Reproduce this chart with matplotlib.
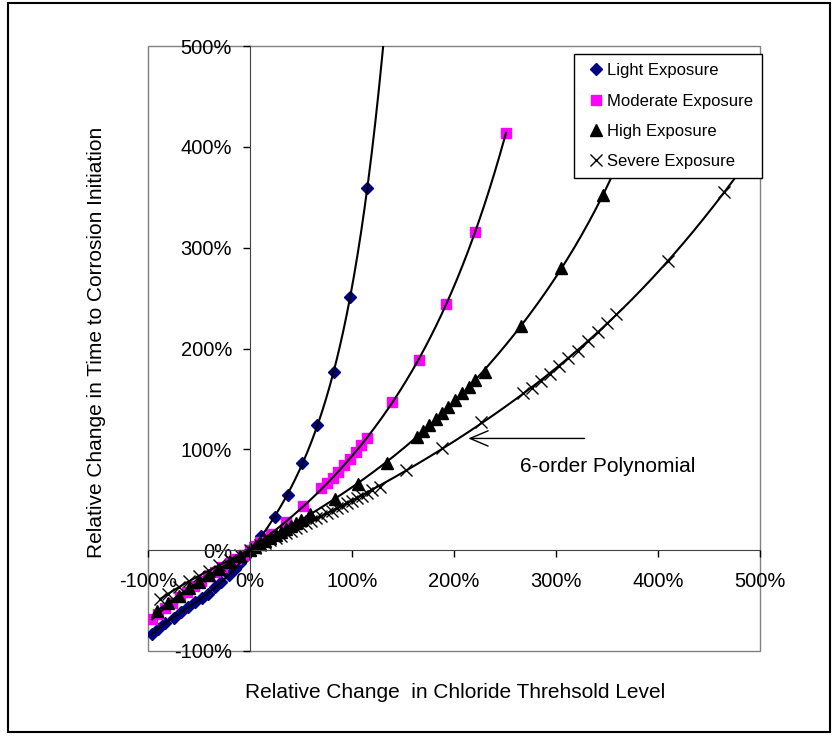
import numpy as np
import matplotlib
matplotlib.use("Agg")
import matplotlib.pyplot as plt
from matplotlib.patches import Rectangle

plt.rcParams['font.family'] = ['Liberation Sans', 'DejaVu Sans']

# values (fractions, shown as %)
light_x = [-0.96, -0.90, -0.83, -0.75, -0.68, -0.61, -0.54, -0.47, -0.41, -0.34,
           -0.28, -0.21, -0.15, -0.10, -0.05, 0.0, 0.105, 0.245, 0.37, 0.507,
           0.66, 0.824, 0.98, 1.15]
light_y = [-0.83, -0.78, -0.72, -0.67, -0.61, -0.56, -0.51, -0.47, -0.43, -0.37,
           -0.32, -0.25, -0.19, -0.13, -0.065, 0.0, 0.139, 0.324, 0.545, 0.86,
           1.24, 1.77, 2.51, 3.59]

moderate_x = [-0.96, -0.90, -0.83, -0.76, -0.69, -0.62, -0.55, -0.48, -0.41, -0.34,
              -0.27, -0.20, -0.14, -0.07, 0.0, 0.05, 0.10, 0.21, 0.353, 0.52,
              0.70, 0.755, 0.81, 0.865, 0.92, 0.98, 1.035, 1.09, 1.15, 1.39,
              1.657, 1.92, 2.21, 2.51]
moderate_y = [-0.68, -0.63, -0.575, -0.52, -0.465, -0.41, -0.36, -0.31, -0.26, -0.215,
              -0.17, -0.125, -0.085, -0.045, 0.0, 0.04, 0.08, 0.165, 0.28, 0.44,
              0.62, 0.67, 0.72, 0.78, 0.84, 0.90, 0.97, 1.04, 1.11, 1.47,
              1.89, 2.44, 3.16, 4.14]

high_x = [-0.91, -0.80, -0.70, -0.60, -0.50, -0.40, -0.30, -0.20, -0.10, 0.0,
          0.05, 0.10, 0.15, 0.20, 0.25, 0.30, 0.35, 0.40, 0.45, 0.50,
          0.59, 0.83, 1.06, 1.34, 1.64, 1.70, 1.755, 1.82, 1.885, 1.94,
          2.01, 2.08, 2.15, 2.21, 2.30, 2.66, 3.05, 3.46]
high_y = [-0.60, -0.52, -0.45, -0.38, -0.315, -0.25, -0.185, -0.122, -0.06, 0.0,
          0.03, 0.06, 0.09, 0.12, 0.15, 0.18, 0.21, 0.24, 0.27, 0.30,
          0.36, 0.51, 0.66, 0.86, 1.12, 1.18, 1.24, 1.30, 1.36, 1.42,
          1.49, 1.555, 1.62, 1.69, 1.77, 2.22, 2.80, 3.52]

severe_x = [-0.88, -0.80, -0.70, -0.60, -0.50, -0.40, -0.30, -0.20, -0.10, 0.0,
            0.05, 0.10, 0.15, 0.20, 0.25, 0.30, 0.35, 0.40, 0.45, 0.50,
            0.55, 0.60, 0.65, 0.70, 0.75, 0.80, 0.85, 0.90, 0.95, 1.00,
            1.05, 1.10, 1.15, 1.20, 1.27, 1.53, 1.88, 2.26, 2.68, 2.76,
            2.85, 2.94, 3.03, 3.12, 3.22, 3.31, 3.41, 3.50, 3.59, 4.10, 4.65]
severe_y = [-0.48, -0.43, -0.37, -0.31, -0.26, -0.205, -0.15, -0.10, -0.05, 0.0,
            0.024, 0.048, 0.072, 0.096, 0.12, 0.144, 0.168, 0.192, 0.216, 0.24,
            0.265, 0.29, 0.315, 0.34, 0.365, 0.39, 0.415, 0.44, 0.465, 0.49,
            0.515, 0.54, 0.565, 0.595, 0.63, 0.80, 1.01, 1.27, 1.555, 1.61,
            1.68, 1.75, 1.825, 1.91, 1.98, 2.07, 2.16, 2.255, 2.34, 2.87, 3.55]

labels = ['Light Exposure', 'Moderate Exposure', 'High Exposure', 'Severe Exposure']
ticks = [-1, 0, 1, 2, 3, 4, 5]

fig = plt.figure(figsize=(8.38, 7.38), dpi=100)
ax = fig.add_axes([148/838, 87/738, 612/838, 605/738])

series = [
    (light_x, light_y, dict(marker='D', ms=6.3, color='#000080'), 0.2),
    (moderate_x, moderate_y, dict(marker='s', ms=7.2, color='#FF00FF'), 0.0),
    (high_x, high_y, dict(marker='^', ms=8.5, color='black'), 0.2),
    (severe_x, severe_y, dict(marker='x', ms=8.5, mew=1, color='black'), 0.2),
]
for (xs, ys, st, fwd), lab in zip(series, labels):
    ax.plot(xs, ys, ls='none', label=lab, zorder=2, **st)
    # 6th order polynomial trendline
    p = np.polyfit(xs, ys, 6)
    xx = np.linspace(min(xs), max(xs) + fwd, 400)
    ax.plot(xx, np.polyval(p, xx), color='black', lw=1.5, zorder=3)

ax.set_xlim(-1, 5)
ax.set_ylim(-1, 5)
ax.set_xticks(ticks)
ax.set_yticks(ticks)
ax.set_xticklabels(['%d%%' % (t * 100) for t in ticks])
ax.set_yticklabels(['%d%%' % (t * 100) for t in ticks])
ax.spines['left'].set_position('zero')
ax.spines['bottom'].set_position('zero')
ax.spines['right'].set_visible(False)
ax.spines['top'].set_visible(False)
ax.spines['left'].set_color('#404040')
ax.spines['bottom'].set_color('#404040')
ax.tick_params(direction='out', length=5, width=1, labelsize=14.5, pad=8)
ax.tick_params(axis='x', pad=11)
ax.add_patch(Rectangle((0, 0), 1, 1, transform=ax.transAxes, fill=False,
                       edgecolor='#808080', lw=1, clip_on=False, zorder=1))

ax.annotate('', xy=(2.14, 1.108), xytext=(3.28, 1.108),
            arrowprops=dict(arrowstyle='->,head_length=1.3,head_width=0.55',
                            lw=1, color='black', mutation_scale=10,
                            shrinkA=0, shrinkB=0))
ax.text(2.65, 0.826, '6-order Polynomial', va='center', ha='left', fontsize=15)

leg = ax.legend(loc='upper right', bbox_to_anchor=(762/838, 1 - 54/738),
                bbox_transform=fig.transFigure, fontsize=12, frameon=True,
                fancybox=False, framealpha=1, edgecolor='black',
                handlelength=1.6, handletextpad=-0.15, labelspacing=0.92,
                borderpad=0.55, borderaxespad=0)
leg.get_frame().set_linewidth(1)

fig.text(455/838, 1 - 692/738, 'Relative Change  in Chloride Threhsold Level',
         ha='center', va='center', fontsize=15)
fig.text(97/838, 1 - 342/738, 'Relative Change in Time to Corrosion Initiation',
         ha='center', va='center', rotation=90, fontsize=15)

fig.add_artist(Rectangle((8/838, 6/738), 822/838, 729/738, transform=fig.transFigure,
                         fill=False, edgecolor='black', lw=1.5))

fig.savefig('out.png', dpi=100)
